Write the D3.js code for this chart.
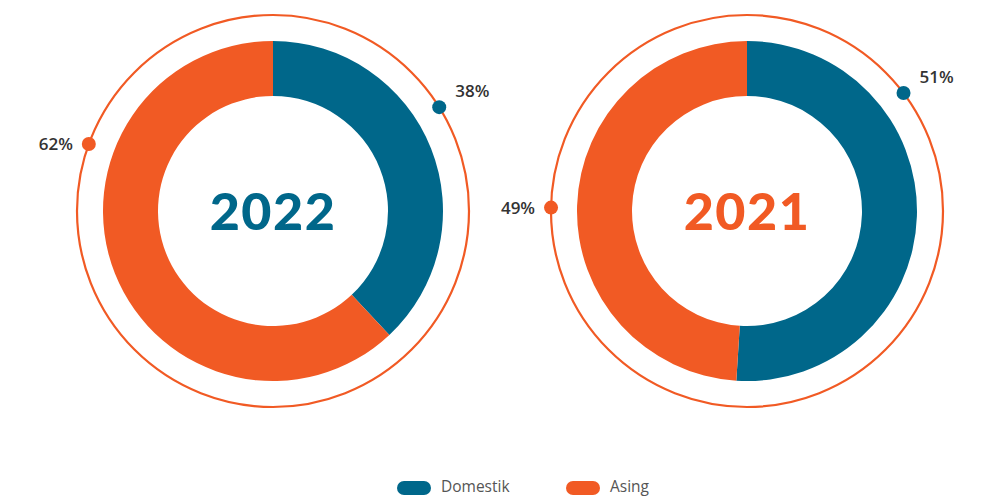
<!DOCTYPE html>
<html>
<head>
<meta charset="utf-8">
<script src="https://cdn.jsdelivr.net/npm/d3@7"></script>
<style>
  body { margin: 0; background: #fff; }
  svg { display: block; font-family: "Open Sans", "Noto Sans", sans-serif; }
</style>
</head>
<body>
<div id="chart"></div>
<script>
// data
var years = ["2022", "2021"];
var categories = ["Domestik", "Asing"];
var domestik = [38, 51];
var asing = [62, 49];

var colors = { Domestik: "#00678a", Asing: "#f15a24" };

var width = 989, height = 498;
var layout = {
  cx: [273, 747],
  cy: 211,
  rOuter: 170,
  rInner: 115,
  rRing: 196,
  // where the % markers sit on the outer ring (degrees clockwise from top)
  markerAngle: [[58, 290], [53, 271]]
};

var svg = d3.select('#chart').append('svg')
  .attr('width', width)
  .attr('height', height);

var pie = d3.pie().sort(null).value(function(d){ return d.value; });
var arc = d3.arc().innerRadius(layout.rInner).outerRadius(layout.rOuter);

years.forEach(function(year, i) {
  var data = [
    { key: "Domestik", value: domestik[i] },
    { key: "Asing", value: asing[i] }
  ];
  var g = svg.append('g')
    .attr('transform', 'translate(' + layout.cx[i] + ',' + layout.cy + ')');

  g.append('circle')
    .attr('r', layout.rRing)
    .attr('fill', 'none')
    .attr('stroke', colors.Asing)
    .attr('stroke-width', 2.2);

  g.selectAll('path.slice')
    .data(pie(data)).enter()
    .append('path')
      .attr('class', 'slice')
      .attr('d', arc)
      .attr('fill', function(d){ return colors[d.data.key]; });

  g.append('text')
    .attr('text-anchor', 'middle')
    .attr('y', 19)
    .attr('font-family', 'Lato, sans-serif')
    .attr('font-size', 52)
    .attr('font-weight', 900)
    .attr('letter-spacing', 1.5)
    .attr('fill', i === 0 ? colors.Domestik : colors.Asing)
    .text(year);

  data.forEach(function(d, j) {
    var a = layout.markerAngle[i][j] * Math.PI / 180;
    var x = layout.rRing * Math.sin(a), y = -layout.rRing * Math.cos(a);
    g.append('circle')
      .attr('cx', x).attr('cy', y).attr('r', 7)
      .attr('fill', colors[d.key]);
    var right = x > 0;
    g.append('text')
      .attr('x', right ? x + 16 : x - 16)
      .attr('y', y - (right ? 10 : -6))
      .attr('text-anchor', right ? 'start' : 'end')
      .attr('font-size', 17)
      .attr('font-weight', 600)
      .attr('fill', '#333')
      .text(d.value + '%');
  });
});

// legend
var legendX = d3.scaleOrdinal().domain(categories).range([397, 566]);
var legend = svg.append('g').attr('class', 'legend');
categories.forEach(function(c) {
  legend.append('rect')
    .attr('x', legendX(c)).attr('y', 481)
    .attr('width', 34).attr('height', 14).attr('rx', 7)
    .attr('fill', colors[c]);
  legend.append('text')
    .attr('x', legendX(c) + 44).attr('y', 492)
    .attr('font-size', 15.5)
    .attr('fill', '#555')
    .text(c);
});
</script>
</body>
</html>
